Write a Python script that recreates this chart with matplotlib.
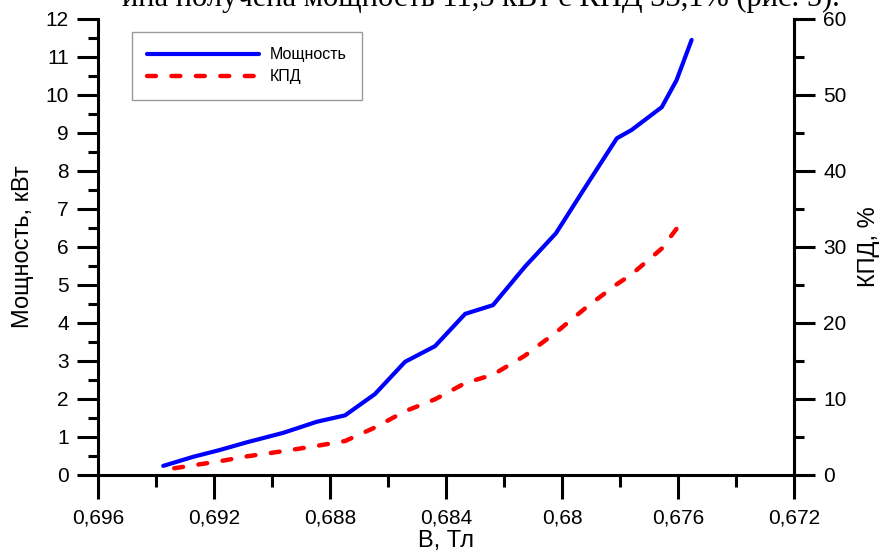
import matplotlib
matplotlib.use('Agg')
import matplotlib.pyplot as plt
from matplotlib.ticker import MultipleLocator, FuncFormatter
from matplotlib.lines import Line2D

# magnetic induction, T (axis runs from high to low)
b_tl = [0.69375, 0.69271, 0.69179, 0.69087, 0.68961, 0.68846, 0.68748,
        0.68645, 0.68541, 0.68438, 0.68334, 0.68238, 0.68128, 0.68021,
        0.67915, 0.67811, 0.67760, 0.67656, 0.67605, 0.67553]
# power, kW
power_kw = [0.24, 0.48, 0.66, 0.86, 1.11, 1.40, 1.57, 2.13, 2.98, 3.39,
            4.24, 4.47, 5.48, 6.36, 7.63, 8.86, 9.08, 9.68, 10.39, 11.45]
# efficiency, %
eff_pct = [0.66, 1.28, 1.82, 2.45, 3.14, 3.83, 4.47, 6.25, 8.39, 9.96,
           12.09, 13.2, 15.7, 18.75, 22.1, 25.1, 26.4, 29.8, 32.4]

plt.rcParams['font.family'] = ['Liberation Sans', 'DejaVu Sans']

W, H = 882, 556
fig = plt.figure(figsize=(W / 100, H / 100), dpi=100)
ax = fig.add_axes([98 / W, 1 - 475 / H, (794 - 98) / W, (475 - 19) / H])
ax2 = ax.twinx()

# cut-off line of the document text above the figure
fig.text(840 / W, 1 - 6 / H, 'ина получена мощность 11,5 кВт с КПД 33,1% (рис. 5).',
         ha='right', va='baseline', fontsize=22, family='Liberation Serif')

ax.plot(b_tl, power_kw, color='#0000ff', lw=3, solid_capstyle='round',
        solid_joinstyle='round', clip_on=False)
eff_line, = ax2.plot(b_tl[:len(eff_pct)], eff_pct, color='#ff0000', lw=3.2,
                     linestyle=(3.0, (2, 3.5)), dash_capstyle='round',
                     clip_on=False)

ax.set_xlim(0.696, 0.672)
ax.set_ylim(0, 12)
ax2.set_ylim(0, 60)

comma = FuncFormatter(lambda v, p: ('%g' % round(v, 4)).replace('.', ','))
ax.xaxis.set_major_locator(MultipleLocator(0.004))
ax.xaxis.set_minor_locator(MultipleLocator(0.002))
ax.xaxis.set_major_formatter(comma)
ax.yaxis.set_major_locator(MultipleLocator(1))
ax.yaxis.set_minor_locator(MultipleLocator(0.5))
ax2.yaxis.set_major_locator(MultipleLocator(10))
ax2.yaxis.set_minor_locator(MultipleLocator(5))

for a in (ax, ax2):
    a.spines['top'].set_visible(False)
    for s in a.spines.values():
        s.set_linewidth(2.2)
    a.tick_params(which='major', direction='out', length=15, width=2.2,
                  labelsize=15, pad=6)
    a.tick_params(which='minor', direction='out', length=7.5, width=2.2)
ax.tick_params(axis='x', which='major', length=17, pad=7)
ax.tick_params(axis='x', which='minor', length=8.5)
ax2.spines['left'].set_visible(False)
ax2.spines['bottom'].set_visible(False)

ax.set_ylabel('Мощность, кВт', fontsize=17, labelpad=8)
ax.set_xlabel('B, Тл', fontsize=17, labelpad=2)
ax2.set_ylabel('КПД, %', fontsize=17, labelpad=8)

handles = [Line2D([], [], color='#0000ff', lw=3, solid_capstyle='round'),
           Line2D([], [], color='#ff0000', lw=3.2, dashes=(2, 3.5),
                  dash_capstyle='round')]
leg = ax.legend(handles, ['Мощность', 'КПД'], loc='upper left',
                bbox_to_anchor=(132 / W, 1 - 32 / H),
                bbox_transform=fig.transFigure, fontsize=11.5,
                frameon=True, fancybox=False, framealpha=1,
                edgecolor='#9a9a9a', handlelength=7, handletextpad=0.7,
                borderpad=0.95, labelspacing=0.45, borderaxespad=0)
leg.get_frame().set_linewidth(1)

fig.savefig('out.png', dpi=100)
